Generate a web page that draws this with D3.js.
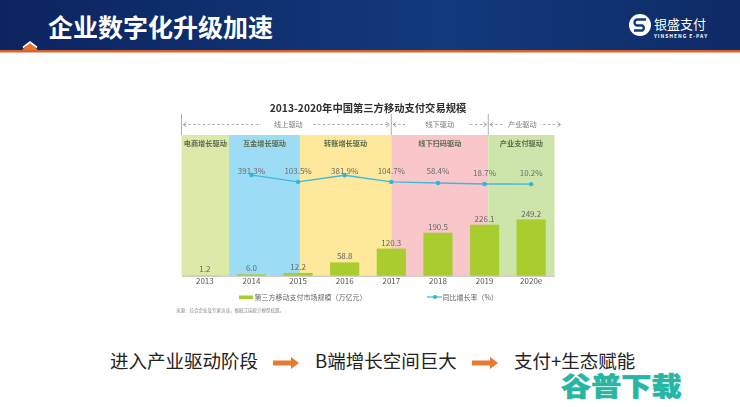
<!DOCTYPE html>
<html>
<head>
<meta charset="utf-8">
<script src="https://cdn.jsdelivr.net/npm/d3@7"></script>
<style>
  html, body { margin: 0; padding: 0; background: #fff; }
  svg { display: block; }
  text { font-family: "Noto Sans CJK SC", "Noto Sans", sans-serif; }
</style>
</head>
<body>
<svg id="chart" width="740" height="407"></svg>
<script>
const years = ['2013', '2014', '2015', '2016', '2017', '2018', '2019', '2020e'];
const marketSize = [1.2, 6.0, 12.2, 58.8, 120.3, 190.5, 226.1, 249.2];
const growthYears = ['2014', '2015', '2016', '2017', '2018', '2019', '2020e'];
const growthRate = [391.3, 103.5, 381.9, 104.7, 58.4, 18.7, 10.2];

// stage bands, edges are in category slots
const stageNames = ['电商增长驱动', '互金增长驱动', '转账增长驱动', '线下扫码驱动', '产业支付驱动'];
const stageEdges = [0, 1.02, 2.54, 4.5, 6.58, 8];
const stageColors = ['#dde9a8', '#9cdcf4', '#fde89c', '#f9c7ca', '#cde4aa'];

const driverNames = ['线上驱动', '线下驱动', '产业驱动'];
const driverEdges = [0, 4.5, 6.58, 8.17];

const slides = ['进入产业驱动阶段', 'B端增长空间巨大', '支付+生态赋能'];

const svg = d3.select('#chart');
const defs = svg.append('defs');

const headerGrad = defs.append('linearGradient').attr('id', 'headerGrad');
headerGrad.append('stop').attr('offset', '0%').attr('stop-color', '#0d2460');
headerGrad.append('stop').attr('offset', '60%').attr('stop-color', '#123a7c');
headerGrad.append('stop').attr('offset', '100%').attr('stop-color', '#0f2a66');

defs.append('filter').attr('id', 'soft')
  .append('feGaussianBlur').attr('stdDeviation', 0.4);

// Header
svg.append('rect').attr('width', 740).attr('height', 50).attr('fill', 'url(#headerGrad)');
svg.append('rect').attr('y', 50).attr('width', 740).attr('height', 2.5).attr('fill', '#d8622c');
svg.append('path').attr('d', 'M22 50L30 42.5L38 50Z').attr('fill', '#e8742a');
svg.append('path').attr('d', 'M23 47.5L30 42L37 47.5').attr('fill', 'none').attr('stroke', '#fff').attr('stroke-width', 1.6);
svg.append('text').attr('x', 48).attr('y', 37)
  .attr('fill', '#fff').attr('font-size', 25).attr('font-weight', 700).text('企业数字化升级加速');

// Logo
const logo = svg.append('g').attr('transform', 'translate(640,25)');
logo.append('circle').attr('r', 11).attr('fill', '#fff');
logo.append('path')
  .attr('d', 'M6 -5.5H-2.5A3 3 0 0 0 -2.5 0.5H2.5A3 3 0 0 1 2.5 5.5H-6')
  .attr('fill', 'none').attr('stroke', '#123a7c').attr('stroke-width', 2.4);
svg.append('text').attr('x', 654).attr('y', 29).attr('fill', '#fff')
  .attr('font-size', 13).text('银盛支付');
svg.append('text').attr('x', 654).attr('y', 38).attr('fill', '#fff')
  .attr('font-size', 5).attr('font-weight', 700).attr('letter-spacing', 0.95).text('YINSHENG E-PAY');

// Chart
const chart = svg.append('g').attr('filter', 'url(#soft)');

const x = d3.scaleBand().domain(years).range([181.5, 554.5]).paddingInner(0.375).paddingOuter(0.1875);
const slot = d3.scaleLinear().domain([0, 8]).range([181.5, 554.5]);
const y = d3.scaleLinear().domain([0, 249.2]).range([275.7, 219.5]);
const yRate = d3.scaleLinear().domain([0, 391.3]).range([184.4, 175]);
const cx = d => x(d) + x.bandwidth() / 2;

// Driver arrows above the bands, the label halo opens the gap in the dashes
const driverHalo = [18, 28, 8];
driverNames.forEach((name, i) => {
  const x0 = slot(driverEdges[i]) + 2;
  const x1 = slot(driverEdges[i + 1]) - 2;
  const g = chart.append('g');
  g.append('line').attr('x1', x0).attr('x2', x1).attr('y1', 124.5).attr('y2', 124.5)
    .attr('stroke', '#8a8a8a').attr('stroke-width', 0.7).attr('stroke-dasharray', '2.6 2.2');
  g.append('path')
    .attr('d', `M${x0 + 3} 122L${x0} 124.5L${x0 + 3} 127M${x1 - 3} 122L${x1} 124.5L${x1 - 3} 127`)
    .attr('fill', 'none').attr('stroke', '#777').attr('stroke-width', 0.7);
  g.append('text')
    .attr('x', (x0 + x1) / 2 + (i === 2 ? -3 : i === 0 ? 2 : 0))
    .attr('y', 127)
    .attr('text-anchor', 'middle')
    .attr('fill', '#777')
    .attr('font-size', 7.2)
    .attr('stroke', '#fff')
    .attr('stroke-width', driverHalo[i])
    .attr('paint-order', 'stroke')
    .text(name);
});

chart.append('text').attr('x', 368).attr('y', 112).attr('text-anchor', 'middle')
  .attr('fill', '#2e2e2e').attr('font-size', 10.3).attr('font-weight', 700)
  .text('2013-2020年中国第三方移动支付交易规模');

chart.selectAll('.stage').data(stageNames).join('rect')
  .attr('class', 'stage')
  .attr('x', (d, i) => slot(stageEdges[i]))
  .attr('y', 135)
  .attr('width', (d, i) => slot(stageEdges[i + 1]) - slot(stageEdges[i]))
  .attr('height', 140.7)
  .attr('fill', (d, i) => stageColors[i]);

chart.selectAll('.stage-label').data(stageNames).join('text')
  .attr('class', 'stage-label')
  .attr('x', (d, i) => (slot(stageEdges[i]) + slot(stageEdges[i + 1])) / 2)
  .attr('y', 146)
  .attr('text-anchor', 'middle')
  .attr('fill', '#5d6b50')
  .attr('font-size', 7.2)
  .attr('font-weight', 700)
  .text(d => d);

chart.selectAll('.divider').data(driverEdges.slice(0, 3)).join('line')
  .attr('class', 'divider')
  .attr('x1', d => slot(d)).attr('x2', d => slot(d))
  .attr('y1', 114).attr('y2', 135)
  .attr('stroke', '#9a9a9a').attr('stroke-width', 0.8);

chart.selectAll('.bar').data(marketSize).join('rect')
  .attr('class', 'bar')
  .attr('x', (d, i) => x(years[i]))
  .attr('y', d => y(d))
  .attr('width', x.bandwidth())
  .attr('height', d => y(0) - y(d))
  .attr('fill', '#a9cc2e');

chart.selectAll('.bar-label').data(marketSize).join('text')
  .attr('class', 'bar-label')
  .attr('x', (d, i) => cx(years[i]))
  .attr('y', d => y(d) - 3)
  .attr('text-anchor', 'middle')
  .attr('fill', '#666')
  .attr('font-size', 8)
  .text(d => d.toFixed(1));

const axis = chart.append('g')
  .attr('transform', `translate(0,${y(0)})`)
  .call(d3.axisBottom(x).tickSize(0).tickPadding(3));
axis.select('.domain').attr('stroke', '#a8a8a0').attr('stroke-width', 0.8);
axis.selectAll('text')
  .attr('fill', '#555')
  .attr('font-size', 8)
  .style('font-family', '"Noto Sans CJK SC", sans-serif');

const rateLine = d3.line()
  .x((d, i) => cx(growthYears[i]))
  .y(d => yRate(d));

chart.append('path').datum(growthRate)
  .attr('d', rateLine)
  .attr('fill', 'none')
  .attr('stroke', '#3fb8dc')
  .attr('stroke-width', 1.4);

chart.selectAll('.rate-dot').data(growthRate).join('circle')
  .attr('class', 'rate-dot')
  .attr('cx', (d, i) => cx(growthYears[i]))
  .attr('cy', d => yRate(d))
  .attr('r', 2.2)
  .attr('fill', '#2fb6d8');

// the rate labels sit in a row, they do not follow the line
chart.selectAll('.rate-label').data(growthRate).join('text')
  .attr('class', 'rate-label')
  .attr('x', (d, i) => cx(growthYears[i]))
  .attr('y', (d, i) => (i < 5 ? 174 : 175.6))
  .attr('text-anchor', 'middle')
  .attr('fill', '#6b6b6b')
  .attr('font-size', 8)
  .text(d => d.toFixed(1) + '%');

// Legend
chart.append('rect').attr('x', 239).attr('y', 295.5).attr('width', 14).attr('height', 3.6).attr('fill', '#a9cc2e');
chart.append('text').attr('x', 254.5).attr('y', 300).attr('fill', '#666').attr('font-size', 7)
  .text('第三方移动支付市场规模（万亿元）');
chart.append('line').attr('x1', 427).attr('x2', 442).attr('y1', 297).attr('y2', 297)
  .attr('stroke', '#3fb8dc').attr('stroke-width', 1.2);
chart.append('circle').attr('cx', 435).attr('cy', 297).attr('r', 2).attr('fill', '#2fb6d8');
chart.append('text').attr('x', 442.5).attr('y', 300).attr('fill', '#666').attr('font-size', 7)
  .text('同比增长率（%）');
chart.append('text').attr('x', 176).attr('y', 312).attr('fill', '#888').attr('font-size', 4.5)
  .text('来源：综合企业及专家访谈，根据艾瑞统计模型核算。');

// Bottom line of takeaways
const slideX = [110, 315, 514];
svg.selectAll('.slide').data(slides).join('text')
  .attr('class', 'slide')
  .attr('x', (d, i) => slideX[i])
  .attr('y', 368)
  .attr('fill', '#222')
  .attr('font-size', 18.5)
  .text(d => d);

[273, 472].forEach(left => {
  svg.append('path')
    .attr('d', `M${left} 360.5H${left + 18}V357L${left + 26} 363L${left + 18} 369V365.5H${left}Z`)
    .attr('fill', '#e67a2e');
});

// the watermark is stretched sideways
svg.append('text').attr('transform', 'translate(561,396) scale(1.16,1)')
  .attr('fill', '#27b5a4').attr('stroke', '#27b5a4').attr('stroke-width', 0.5)
  .attr('font-size', 26).attr('font-weight', 900)
  .text('谷普下载');
</script>
</body>
</html>
